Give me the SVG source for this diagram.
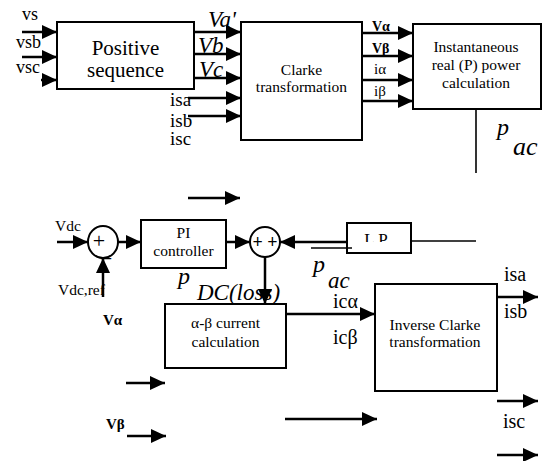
<svg xmlns="http://www.w3.org/2000/svg" width="542" height="461" viewBox="0 0 542 461" font-family="'Liberation Serif', 'Times New Roman', serif">
<style>
  .box { fill: #fff; stroke: #000; stroke-width: 2; }
  .ln { stroke: #000; stroke-width: 2.5; fill: none; }
  .thin { stroke: #000; stroke-width: 1.6; fill: none; }
  .arr { marker-end: url(#ah); }
  text { font-family: "Liberation Serif", "Times New Roman", serif; fill: #000; }
  .bt { font-size: 15.5px; text-anchor: middle; }
  .big { font-size: 21px; text-anchor: middle; }
  .lbl { font-size: 20px; }
  .it { font-style: italic; }
  .bd { font-weight: bold; }
</style>
<defs>
  <marker id="ah" markerUnits="userSpaceOnUse" markerWidth="15" markerHeight="14" refX="15" refY="7" orient="auto">
    <path d="M0,0 L15,7 L0,14 Z" fill="#000"/>
  </marker>
  <clipPath id="lpclip"><rect x="347" y="223" width="64" height="19"/></clipPath>
</defs>
<rect width="542" height="461" fill="#fff"/>

<g id="positive-sequence">
  <rect class="box" x="57" y="22" width="137" height="67"/>
  <text class="big" x="125.5" y="55">Positive</text>
  <text class="big" x="125.5" y="77">sequence</text>
</g>
<g id="clarke">
  <rect class="box" x="241" y="22" width="121" height="118"/>
  <text class="bt" x="301.5" y="75">Clarke</text>
  <text class="bt" x="301.5" y="92">transformation</text>
</g>
<g id="instantaneous-power">
  <rect class="box" x="413" y="24" width="128" height="85"/>
  <text class="bt" x="476" y="52">Instantaneous</text>
  <text class="bt" x="476" y="70">real (P) power</text>
  <text class="bt" x="476" y="88">calculation</text>
</g>
<g id="sum1">
  <ellipse cx="103" cy="242" rx="15" ry="16" fill="#fff" stroke="#000" stroke-width="2"/>
  <text x="99" y="248" font-size="22" text-anchor="middle">+</text>
  <text x="106" y="256" font-size="20" text-anchor="middle">_</text>
</g>
<g id="pi-controller">
  <rect class="box" x="141" y="220" width="85" height="48"/>
  <text class="bt" x="183.5" y="238">PI</text>
  <text class="bt" x="183.5" y="256">controller</text>
</g>
<g id="sum2">
  <circle cx="265" cy="242" r="15" fill="#fff" stroke="#000" stroke-width="2"/>
  <text x="265" y="248" font-size="18" font-weight="bold" text-anchor="middle">+ +</text>
</g>
<g id="lp">
  <rect class="box" x="347" y="223" width="64" height="30"/>
  <text x="376" y="245" font-size="17" text-anchor="middle" clip-path="url(#lpclip)">L P</text>
</g>
<g id="ab-current">
  <rect class="box" x="165" y="304" width="121" height="64"/>
  <text class="bt" x="225.5" y="328">α-β current</text>
  <text class="bt" x="225.5" y="347">calculation</text>
</g>
<g id="inverse-clarke">
  <rect class="box" x="375" y="284" width="122" height="107"/>
  <text class="bt" x="435" y="330">Inverse Clarke</text>
  <text class="bt" x="435" y="347">transformation</text>
</g>

<g id="labels">
  <text x="22" y="20" style="font-size:18px">vs</text>
  <text x="16" y="48" style="font-size:18px">vsb</text>
  <text x="16" y="73" style="font-size:18px">vsc</text>
  <text class="it" x="208" y="27" style="font-size:23px" fill="#222">Va'</text>
  <text class="it" x="198" y="53" style="font-size:23px" fill="#555">Vb</text>
  <text class="it" x="199" y="77" style="font-size:23px" fill="#555">Vc</text>
  <text x="170" y="106" style="font-size:19px">isa</text>
  <text x="170" y="127" style="font-size:19px">isb</text>
  <text x="170" y="145" style="font-size:19px">isc</text>
  <text class="bd" x="372" y="31" style="font-size:14px">Vα</text>
  <text class="bd" x="372" y="53" style="font-size:14px">Vβ</text>
  <text x="374" y="74" style="font-size:15px">iα</text>
  <text x="374" y="96" style="font-size:15px">iβ</text>
  <text class="it" x="497" y="135" style="font-size:24px">p</text>
  <text class="it" x="513" y="155" style="font-size:26px">ac</text>
  <text x="55" y="231" style="font-size:15.5px">Vdc</text>
  <text x="58" y="295" style="font-size:15.5px">Vdc,ref</text>
  <text class="bd" x="103" y="325" style="font-size:15px">Vα</text>
  <text class="bd" x="106" y="429" style="font-size:15px">Vβ</text>
  <text class="it" x="178" y="284" style="font-size:24px">p</text>
  <text class="it" x="197" y="300" style="font-size:23px">DC(loss)</text>
  <text class="it" x="313" y="272" style="font-size:24px">p</text>
  <text class="it" x="328" y="288" style="font-size:23px">ac</text>
  <text class="lbl" x="333" y="308">icα</text>
  <text class="lbl" x="333" y="344">icβ</text>
  <text class="lbl" x="504" y="281">isa</text>
  <text class="lbl" x="504" y="318">isb</text>
  <text class="lbl" x="503" y="428">isc</text>
</g>

<g id="connectors">
  <line class="ln arr" x1="22" y1="32" x2="57" y2="32"/>
  <line class="ln arr" x1="22" y1="57" x2="57" y2="57"/>
  <line class="ln arr" x1="41" y1="80" x2="57" y2="80"/>
  <line class="ln arr" x1="194" y1="32" x2="241" y2="32"/>
  <line class="ln arr" x1="194" y1="54" x2="241" y2="54"/>
  <line class="ln arr" x1="194" y1="78" x2="241" y2="78"/>
  <line class="ln arr" x1="188" y1="98" x2="241" y2="98"/>
  <line class="ln arr" x1="188" y1="116" x2="241" y2="116"/>
  <line class="ln arr" x1="362" y1="33" x2="413" y2="33"/>
  <line class="ln arr" x1="362" y1="56" x2="413" y2="56"/>
  <line class="ln arr" x1="362" y1="80" x2="413" y2="80"/>
  <line class="ln arr" x1="362" y1="101" x2="413" y2="101"/>
  <line class="thin" x1="476" y1="109" x2="476" y2="173"/>
  <line class="ln arr" x1="188" y1="198" x2="240" y2="198"/>
  <line class="ln arr" x1="57" y1="242" x2="88" y2="242"/>
  <line class="ln arr" x1="118" y1="242" x2="141" y2="242"/>
  <line class="ln arr" x1="226" y1="242" x2="250" y2="242"/>
  <line class="ln arr" x1="347" y1="242" x2="280" y2="242"/>
  <line class="thin" x1="411" y1="241" x2="476" y2="241"/>
  <line class="thin" x1="311" y1="248" x2="352" y2="248"/>
  <line class="ln arr" x1="103" y1="297" x2="103" y2="258"/>
  <line class="ln arr" x1="265" y1="257" x2="265" y2="304"/>
  <line class="ln arr" x1="286" y1="314" x2="375" y2="314"/>
  <line class="ln arr" x1="497" y1="297" x2="538" y2="297"/>
  <line class="ln arr" x1="126" y1="383" x2="165" y2="383"/>
  <line class="ln arr" x1="127" y1="436" x2="166" y2="436"/>
  <line class="ln arr" x1="285" y1="419" x2="377" y2="419"/>
  <line class="ln arr" x1="497" y1="401" x2="538" y2="401"/>
  <line class="ln arr" x1="497" y1="455" x2="538" y2="455"/>
</g>
</svg>
